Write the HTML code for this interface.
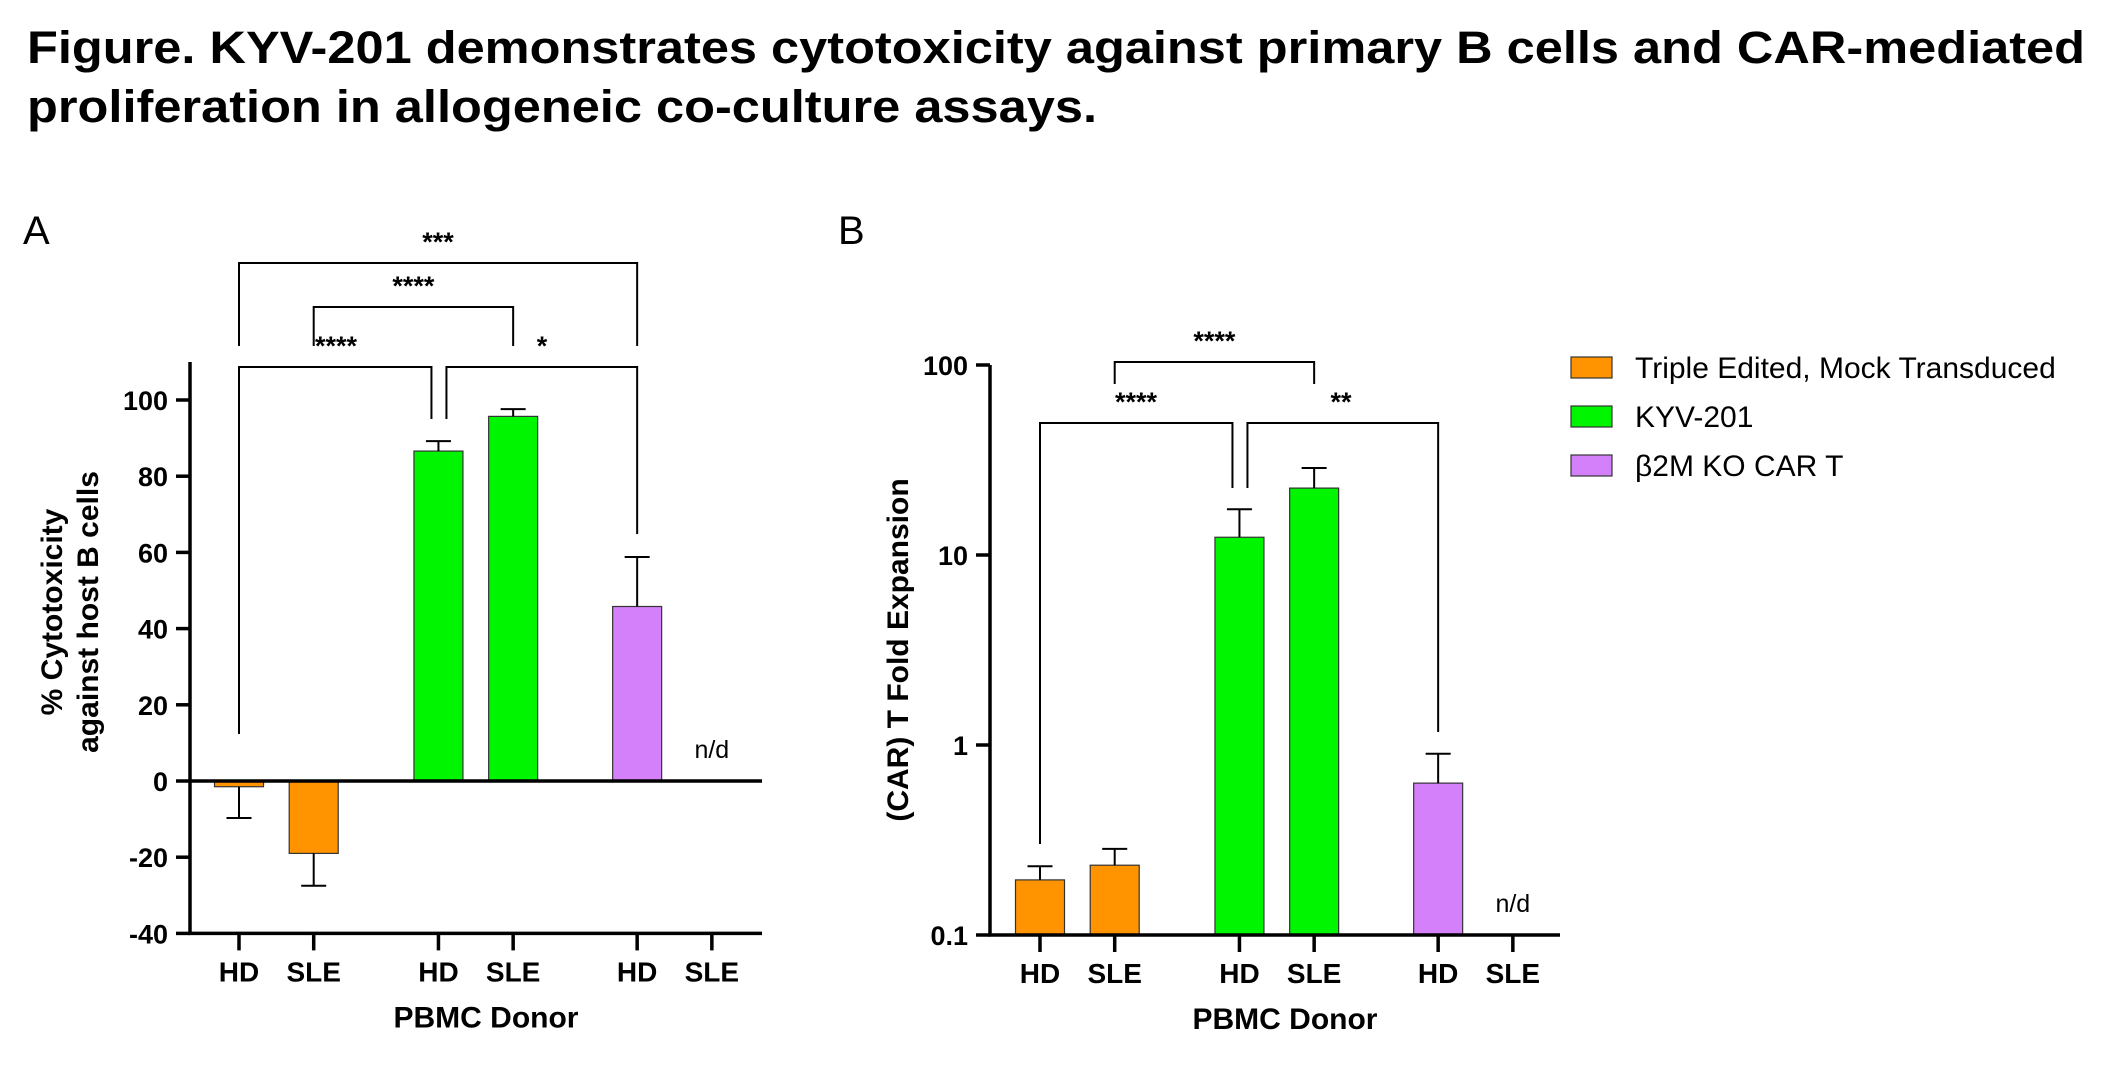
<!DOCTYPE html>
<html><head><meta charset="utf-8"><style>
html,body{margin:0;padding:0;background:#fff;}
svg{display:block;font-family:"Liberation Sans",Arial,sans-serif;}
</style></head><body>
<svg id="fig" width="2109" height="1069" viewBox="0 0 2109 1069">
<text x="27" y="63" font-size="45" font-weight="bold" textLength="2058" lengthAdjust="spacingAndGlyphs">Figure. KYV-201 demonstrates cytotoxicity against primary B cells and CAR-mediated</text>
<text x="27" y="122" font-size="45" font-weight="bold" textLength="1070" lengthAdjust="spacingAndGlyphs">proliferation in allogeneic co-culture assays.</text>
<text x="23" y="244" font-size="40">A</text>
<text x="838" y="244" font-size="40">B</text>
<g id="gA"></g>
<g id="gB"></g>
<g id="legend"></g>
</svg>
<script>
const categories = ["HD","SLE","HD","SLE","HD","SLE"];
const groups = ["mock","mock","kyv","kyv","b2m","b2m"];
const seriesNames = ["Triple Edited, Mock Transduced","KYV-201","β2M KO CAR T"];
const cytoValues = [-1.5,-19,86.6,95.7,45.8,null];
const cytoErrors = [-9.7,-27.5,89.2,97.6,58.8,null];
const expValues = [0.195,0.233,12.4,22.5,0.63,null];
const expErrors = [0.23,0.284,17.4,28.7,0.9,null];
const cytoTicks = [-40,-20,0,20,40,60,80,100];
const expTicks = [0.1,1,10,100];
const slots = [0,1,2.67,3.67,5.33,6.33];

const NS="http://www.w3.org/2000/svg";
const colors={mock:"#ff9400",kyv:"#00f500",b2m:"#d580fb"};
function mk(p,tag,at){const e=document.createElementNS(NS,tag);for(const k in at)e.setAttribute(k,at[k]);p.appendChild(e);return e;}
function txt(p,x,y,s,at){const e=mk(p,"text",Object.assign({x:x,y:y},at));e.textContent=s;return e;}

function panel(g,opt){
  const xs=i=>opt.x0+slots[i]*74.7;
  const ys=opt.y;
  for(let i=0;i<categories.length;i++){
    const v=opt.vals[i]; if(v===null) continue;
    const cx=xs(i), base=opt.base, top=ys(v), err=ys(opt.errs[i]);
    const b=mk(g,"rect",{x:cx-24.5,y:Math.min(base,top),width:49,height:Math.abs(base-top),fill:colors[groups[i]],stroke:"#333","stroke-width":1.2});
    
    
    const e=mk(g,"path",{d:`M${cx},${top}V${err}M${cx-12.5},${err}H${cx+12.5}`,stroke:"#000","stroke-width":2,fill:"none"});
    
    
  }
  const ax=mk(g,"path",{d:`M${opt.ax},${opt.axTop}V${opt.axBot}H${opt.axRight}`,stroke:"#000","stroke-width":3.5,fill:"none"});
  
  
  if(opt.zero){const z=mk(g,"line",{x1:opt.ax,x2:opt.axRight,y1:ys(0),y2:ys(0),stroke:"#000","stroke-width":3.5});
    }
  opt.ticks.forEach(t=>{
    const y=ys(t);
    mk(g,"line",{x1:opt.ax-14,x2:opt.ax,y1:y,y2:y,stroke:"#000","stroke-width":3.5});
    const l=txt(g,opt.ax-22,y+10,opt.fmt(t),{"font-size":27,"font-weight":"bold","text-anchor":"end"});
    
    
  });
  categories.forEach((c,i)=>{
    const x=xs(i);
    mk(g,"line",{x1:x,x2:x,y1:opt.axBot,y2:opt.axBot+17,stroke:"#000","stroke-width":3.5});
    const l=txt(g,x,opt.axBot+48,c,{"font-size":28,"font-weight":"bold","text-anchor":"middle"});
    
    
  });
  const xt=txt(g,(opt.ax+opt.axRight)/2+10,opt.axBot+94,"PBMC Donor",{"font-size":30,"font-weight":"bold","text-anchor":"middle"});
  
  const nd=txt(g,xs(5),opt.ndY,"n/d",{"font-size":25,"text-anchor":"middle"});
  
  opt.brackets.forEach(b=>{
    const x1=xs(b[0])+(b[5]||0), x2=xs(b[1])+(b[6]||0);
    const p=mk(g,"path",{d:`M${x1},${b[3]}V${b[2]}H${x2}V${b[4]}`,stroke:"#000","stroke-width":2,fill:"none"});
    
    const s=txt(g,b[8]!==undefined?b[8]:(x1+x2)/2,b[2]-12,b[7],{"font-size":27,"font-weight":"bold","text-anchor":"middle"});
    
  });
}

const yA=v=>781-v*3.81;
const gA=document.getElementById("gA");
panel(gA,{x0:239,y:yA,base:yA(0),vals:cytoValues,errs:cytoErrors,ax:190,axTop:362,axBot:yA(-40),axRight:762,zero:true,
  ticks:cytoTicks,fmt:t=>String(t),ndY:758,
  brackets:[[0,4,263,346,346,0,0,"***"],[1,3,307,346,346,0,0,"****"],[0,2,367,734,419,0,-7,"****",336],[2,4,367,419,534,8,0,"*",542]]});
const ytA=mk(gA,"text",{transform:"translate(62,612) rotate(-90)","font-size":30,"font-weight":"bold","text-anchor":"middle"});

mk(ytA,"tspan",{x:0,y:0}).textContent="% Cytotoxicity";
mk(ytA,"tspan",{x:0,y:36}).textContent="against host B cells";

const yB=v=>935-(Math.log10(v)+1)*190;
const gB=document.getElementById("gB");
panel(gB,{x0:1040,y:yB,base:yB(0.1),vals:expValues,errs:expErrors,ax:990,axTop:365,axBot:935,axRight:1560,zero:false,
  ticks:expTicks,fmt:t=>String(t),ndY:912,
  brackets:[[1,3,362,384,384,0,0,"****"],[0,2,423,844,488,0,-7,"****",1136],[2,4,423,488,732,8,0,"**",1341]]});
const ytB=txt(gB,0,0,"(CAR) T Fold Expansion",{transform:"translate(908,650) rotate(-90)","font-size":30,"font-weight":"bold","text-anchor":"middle"});


const lg=document.getElementById("legend");
["mock","kyv","b2m"].forEach((k,i)=>{
  const y=357+i*49;
  const r=mk(lg,"rect",{x:1571,y:y,width:41,height:21,fill:colors[k],stroke:"#333","stroke-width":1.2});
  
  const t=txt(lg,1635,y+21,seriesNames[i],{"font-size":30});
  
});
</script>
</body></html>
